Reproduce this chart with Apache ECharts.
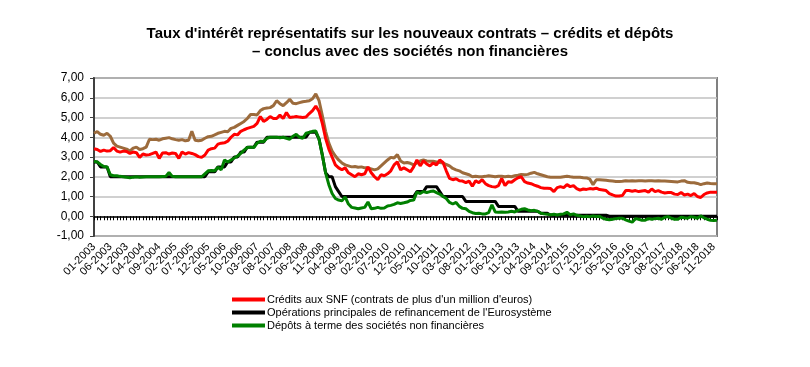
<!DOCTYPE html>
<html>
<head>
<meta charset="utf-8">
<script src="https://cdn.jsdelivr.net/npm/echarts@6/dist/echarts.min.js"></script>
<style>
html,body{margin:0;padding:0;background:#fff;}
#c{width:810px;height:367px;}
</style>
</head>
<body>
<div id="c"></div>
<script>
const years = [2003,2004,2005,2006,2007,2008,2009,2010,2011,2012,2013,2014,2015,2016,2017,2018];
const months = ['01','02','03','04','05','06','07','08','09','10','11','12'];
const categories = [];
years.forEach(y => months.forEach(m => categories.push(m + '-' + y)));

const yTicks = [-1,0,1,2,3,4,5,6,7];

// Crédits aux SNF (contrats de plus d'un million d'euros)
const creditsPlus1M = [
 3.42,3.38,3.28,3.35,3.30,3.32,3.48,3.30,3.25,3.30,3.28,3.18,
 3.25,3.22,2.98,3.15,3.10,3.12,3.18,3.25,2.93,3.20,3.22,3.15,
 3.20,3.18,2.93,3.25,3.15,3.22,3.18,3.12,3.02,2.98,3.10,3.35,
 3.42,3.45,3.65,3.70,3.72,3.80,4.00,4.15,4.12,4.30,4.38,4.45,
 4.50,4.55,4.70,5.05,4.80,4.90,5.05,4.95,4.95,5.12,4.95,5.25,
 5.00,5.02,5.05,5.02,5.00,5.02,5.20,5.35,5.58,5.30,4.70,3.95,
 3.40,3.00,2.60,2.45,2.35,2.45,2.20,2.10,2.00,2.15,2.10,2.15,
 2.50,2.20,2.00,1.85,2.10,2.05,2.15,2.30,2.60,2.75,2.35,2.45,
 2.35,2.25,2.50,2.85,2.55,2.80,2.65,2.55,2.70,2.60,2.85,2.72,
 2.30,1.92,1.85,1.90,1.80,1.78,1.70,1.78,1.52,1.80,1.70,1.85,
 1.65,1.55,1.50,1.48,1.55,1.92,1.55,1.75,1.72,1.85,1.95,2.00,
 1.75,1.68,1.65,1.58,1.52,1.45,1.42,1.42,1.40,1.25,1.45,1.50,
 1.45,1.60,1.50,1.55,1.40,1.32,1.38,1.36,1.40,1.38,1.42,1.35,
 1.33,1.30,1.15,1.08,1.02,1.03,1.05,1.30,1.30,1.27,1.30,1.25,
 1.28,1.30,1.22,1.38,1.25,1.30,1.22,1.18,1.20,1.20,1.12,1.10,
 1.20,1.08,1.12,1.05,1.15,1.00,0.95,1.10,1.18,1.22,1.22,1.22
];

// Opérations principales de refinancement de l'Eurosystème
const refinancement = [
 2.75,2.75,2.50,2.50,2.50,2.00,2.00,2.00,2.00,2.00,2.00,2.00,
 2.00,2.00,2.00,2.00,2.00,2.00,2.00,2.00,2.00,2.00,2.00,2.00,
 2.00,2.00,2.00,2.00,2.00,2.00,2.00,2.00,2.00,2.00,2.00,2.25,
 2.25,2.25,2.50,2.50,2.50,2.75,2.75,3.00,3.00,3.25,3.25,3.50,
 3.50,3.50,3.75,3.75,3.75,4.00,4.00,4.00,4.00,4.00,4.00,4.00,
 4.00,4.00,4.00,4.00,4.00,4.00,4.25,4.25,4.25,3.90,3.10,2.20,
 2.00,2.00,1.50,1.25,1.00,1.00,1.00,1.00,1.00,1.00,1.00,1.00,
 1.00,1.00,1.00,1.00,1.00,1.00,1.00,1.00,1.00,1.00,1.00,1.00,
 1.00,1.00,1.00,1.25,1.25,1.25,1.50,1.50,1.50,1.50,1.25,1.00,
 1.00,1.00,1.00,1.00,1.00,1.00,0.75,0.75,0.75,0.75,0.75,0.75,
 0.75,0.75,0.75,0.75,0.50,0.50,0.50,0.50,0.50,0.50,0.25,0.25,
 0.25,0.25,0.25,0.25,0.25,0.15,0.15,0.15,0.05,0.05,0.05,0.05,
 0.05,0.05,0.05,0.05,0.05,0.05,0.05,0.05,0.05,0.05,0.05,0.05,
 0.05,0.05,0.00,0.00,0.00,0.00,0.00,0.00,0.00,0.00,0.00,0.00,
 0.00,0.00,0.00,0.00,0.00,0.00,0.00,0.00,0.00,0.00,0.00,0.00,
 0.00,0.00,0.00,0.00,0.00,0.00,0.00,0.00,0.00,0.00,0.00,0.00
];

// Dépôts à terme des sociétés non financières
const depotsTerme = [
 2.78,2.75,2.62,2.52,2.50,2.10,2.05,2.05,2.02,2.00,1.97,1.95,
 1.98,2.00,1.98,1.99,2.00,2.00,2.00,2.00,2.00,2.01,2.02,2.22,
 2.02,2.00,2.00,2.00,2.00,2.00,2.00,2.00,2.00,2.00,2.15,2.30,
 2.32,2.30,2.48,2.35,2.85,2.75,2.85,2.95,3.05,3.18,3.35,3.48,
 3.50,3.48,3.70,3.80,3.78,3.95,4.00,4.00,4.00,3.98,4.00,3.95,
 3.90,4.05,4.15,4.00,3.95,4.20,4.25,4.30,4.32,3.90,3.10,2.20,
 1.60,1.15,0.90,0.82,0.78,0.98,0.62,0.45,0.42,0.38,0.42,0.45,
 0.72,0.38,0.40,0.45,0.40,0.42,0.52,0.55,0.60,0.68,0.65,0.68,
 0.72,0.80,0.82,1.22,1.15,1.25,1.20,1.25,1.28,1.20,1.12,1.00,
 0.90,0.70,0.62,0.70,0.50,0.40,0.38,0.25,0.18,0.14,0.15,0.12,
 0.12,0.18,0.58,0.22,0.20,0.22,0.20,0.22,0.25,0.22,0.30,0.35,
 0.38,0.32,0.28,0.30,0.25,0.15,0.12,0.10,0.08,0.10,0.06,0.10,
 0.12,0.20,0.08,0.12,0.05,0.02,-0.02,0.00,-0.02,0.02,-0.01,0.00,
 -0.10,-0.15,-0.18,-0.15,-0.12,-0.10,-0.10,-0.18,-0.25,-0.30,-0.12,-0.15,
 -0.20,-0.20,-0.12,-0.15,-0.12,-0.10,-0.15,-0.05,-0.02,-0.10,-0.15,-0.15,
 -0.05,-0.08,-0.10,-0.02,-0.05,-0.10,0.02,-0.08,-0.15,-0.20,-0.22,-0.20
];

// Série brune (sans entrée de légende)
const serieBrune = [
 4.20,4.29,4.15,4.10,4.20,4.05,3.70,3.55,3.50,3.45,3.40,3.30,
 3.45,3.50,3.38,3.42,3.50,3.90,3.88,3.90,3.85,3.92,3.95,3.98,
 3.92,3.88,3.85,3.88,3.82,3.85,4.30,3.85,3.82,3.85,3.95,4.03,
 4.05,4.12,4.20,4.25,4.30,4.28,4.45,4.50,4.60,4.70,4.80,4.95,
 5.15,5.15,5.13,5.35,5.45,5.48,5.50,5.60,5.85,5.70,5.60,5.75,
 5.92,5.72,5.70,5.75,5.80,5.82,5.85,5.95,6.20,5.85,5.10,4.30,
 3.70,3.30,3.05,2.85,2.70,2.60,2.55,2.50,2.52,2.48,2.50,2.45,
 2.45,2.40,2.35,2.40,2.55,2.70,2.85,2.98,2.95,3.12,2.80,2.70,
 2.72,2.68,2.60,2.70,2.80,2.85,2.80,2.78,2.78,2.75,2.72,2.70,
 2.62,2.55,2.42,2.35,2.30,2.20,2.15,2.10,2.00,2.02,2.00,2.00,
 2.02,2.05,2.03,2.00,2.03,2.02,2.00,2.02,2.00,2.05,2.08,2.12,
 2.10,2.12,2.18,2.22,2.15,2.10,2.05,2.00,1.98,1.97,1.98,1.97,
 2.00,2.03,2.00,1.98,1.97,1.97,1.95,1.94,1.88,1.60,1.85,1.85,
 1.84,1.82,1.80,1.78,1.76,1.76,1.77,1.80,1.78,1.80,1.79,1.80,
 1.80,1.79,1.80,1.80,1.79,1.80,1.78,1.78,1.77,1.76,1.75,1.74,
 1.78,1.80,1.72,1.70,1.70,1.66,1.60,1.65,1.68,1.66,1.65,1.65
];

const legendNames = [
 "Crédits aux SNF (contrats de plus d'un million d'euros)",
 "Opérations principales de refinancement de l'Eurosystème",
 "Dépôts à terme des sociétés non financières"
];
const titleText = "Taux d'intérêt représentatifs sur les nouveaux contrats – crédits et dépôts\n– conclus avec des sociétés non financières";

const FONT = "'Liberation Sans', Arial, sans-serif";
const chart = echarts.init(document.getElementById('c'), null, {renderer: 'canvas'});

function line(name, data, color, z) {
  return {
    name: name, type: 'line', data: data, symbol: 'none', z: z,
    xAxisIndex: 0, yAxisIndex: 0,
    lineStyle: {color: color, width: 3}, itemStyle: {color: color},
    emphasis: {disabled: true}
  };
}

chart.setOption({
  animation: false,
  backgroundColor: '#ffffff',
  title: {
    text: titleText, left: 405, top: 20, textAlign: 'center',
    textStyle: {fontFamily: "'Liberation Sans Narrow', 'Liberation Sans', Arial, sans-serif", fontWeight: 'bold', fontSize: 15, lineHeight: 18, color: '#000', align: 'center'}
  },
  grid: {left: 94, right: 93, top: 78, bottom: 131, show: true, borderColor: '#808080', borderWidth: 2, backgroundColor: 'transparent'},
  legend: {
    data: legendNames, orient: 'vertical', left: 227, top: 288, itemGap: 0,
    icon: 'rect', itemWidth: 33, itemHeight: 4,
    textStyle: {fontFamily: FONT, fontSize: 11, color: '#000', lineHeight: 13, padding: [0,0,0,-3]},
    selectedMode: false
  },
  xAxis: [
    {
      type: 'category', data: categories, boundaryGap: false,
      axisLine: {onZero: true, lineStyle: {color: '#000', width: 1.5}},
      axisTick: {show: true, interval: 0, length: 4, lineStyle: {color: '#000', width: 1}},
      axisLabel: {show: false}, splitLine: {show: false}
    },
    {
      type: 'category', data: categories, boundaryGap: false, position: 'bottom',
      axisLine: {show: false, onZero: false}, axisTick: {show: false},
      axisLabel: {show: true, interval: 4, rotate: 45, margin: 9, fontFamily: FONT, fontSize: 11, color: '#000'},
      splitLine: {show: false}
    }
  ],
  yAxis: {
    type: 'value', min: yTicks[0], max: yTicks[yTicks.length-1], interval: 1,
    axisLine: {show: true, lineStyle: {color: '#404040', width: 2}},
    axisTick: {show: true, length: 4, lineStyle: {color: '#404040'}},
    axisLabel: {fontFamily: FONT, fontSize: 12, color: '#000', margin: 10,
      formatter: v => v.toFixed(2).replace('.', ',')},
    splitLine: {show: true, lineStyle: {color: '#c0c0c0', width: 1.5}}
  },
  series: [
    line('Série brune', serieBrune, '#9c6b3c', 2),
    line(legendNames[0], creditsPlus1M, '#ff0000', 3),
    line(legendNames[1], refinancement, '#000000', 4),
    line(legendNames[2], depotsTerme, '#008000', 5)
  ]
});
</script>
</body>
</html>
